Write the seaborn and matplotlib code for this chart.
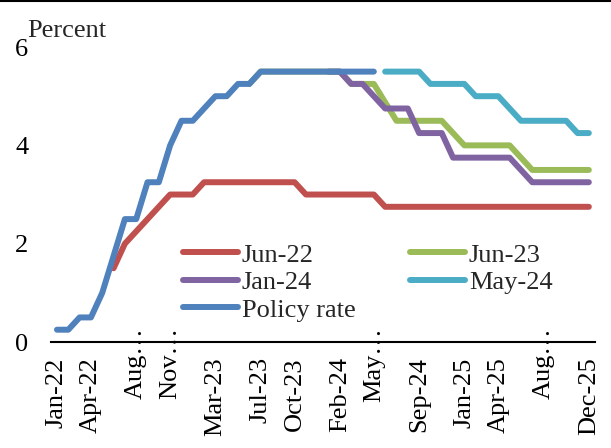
import numpy as np
import pandas as pd
import matplotlib
matplotlib.use('Agg')
import matplotlib.pyplot as plt
import seaborn as sns
from matplotlib.lines import Line2D

sns.set_theme(style="white")
plt.rcParams['font.family'] = ['Liberation Serif', 'DejaVu Serif']

nan = np.nan

# months Jan-22 .. Dec-25 (48 points, index 0..47)
months = pd.date_range('2022-01-01', '2025-12-01', freq='MS')

policy_rate = [0.25, 0.25, 0.5, 0.5, 1.0, 1.75, 2.5, 2.5, 3.25, 3.25, 4.0, 4.5,
               4.5, 4.75, 5.0, 5.0, 5.25, 5.25, 5.5, 5.5, 5.5, 5.5, 5.5, 5.5,
               5.5, 5.5, 5.5, 5.5, 5.5] + [nan] * 19
jun22 = [nan] * 5 + [1.5, 2.0, 2.25, 2.5, 2.75, 3.0, 3.0, 3.0,
                     3.25, 3.25, 3.25, 3.25, 3.25, 3.25, 3.25, 3.25, 3.25,
                     3.0, 3.0, 3.0, 3.0, 3.0, 3.0, 3.0] + [2.75] * 19
jun23 = [nan] * 17 + [5.25, 5.5, 5.5, 5.5, 5.5, 5.5, 5.5, 5.5, 5.5,
                      5.25, 5.25, 5.25, 4.875, 4.5, 4.5, 4.5, 4.5, 4.5, 4.25,
                      4.0, 4.0, 4.0, 4.0, 4.0, 3.75, 3.5, 3.5, 3.5, 3.5, 3.5, 3.5]
jan24 = [nan] * 24 + [5.5, 5.5, 5.25, 5.25, 5.0, 4.75, 4.75, 4.75, 4.25, 4.25,
                      4.25, 3.75, 3.75, 3.75, 3.75, 3.75, 3.75, 3.5,
                      3.25, 3.25, 3.25, 3.25, 3.25, 3.25]
may24 = [nan] * 29 + [5.5, 5.5, 5.5, 5.5, 5.25, 5.25, 5.25, 5.25, 5.0, 5.0, 5.0,
                      4.75, 4.5, 4.5, 4.5, 4.5, 4.5, 4.25, 4.25]

series = [('Jun-22', jun22, '#C0504D'),
          ('Jun-23', jun23, '#9BBB59'),
          ('Jan-24', jan24, '#8064A2'),
          ('May-24', may24, '#4BACC6'),
          ('Policy rate', policy_rate, '#4F81BD')]

tick_pos = [0, 3, 7, 10, 14, 18, 21, 25, 28, 32, 36, 39, 43, 47]
tick_labels = ['Jan-22', 'Apr-22', 'Aug…', 'Nov…', 'Mar-23', 'Jul-23', 'Oct-23',
               'Feb-24', 'May…', 'Sep-24', 'Jan-25', 'Apr-25', 'Aug…', 'Dec-25']

FS = 19

fig = plt.figure(figsize=(6.11, 4.48), dpi=100)
ax = fig.add_axes([0.084, 0.2366, 0.889, 0.6584])

x = np.arange(len(months))
for name, vals, color in series:
    sns.lineplot(x=x, y=np.array(vals, dtype=float), ax=ax, color=color,
                 linewidth=4.3, solid_capstyle='round', solid_joinstyle='round',
                 label=name)

ax.set_xlim(-0.5, 47.5)
ax.set_ylim(0, 6)
ax.set_yticks([0, 2, 4, 6])
ax.tick_params(axis='y', length=0, pad=16.5, labelsize=FS, colors='black')
ax.set_xticks(tick_pos)
ax.set_xticklabels(tick_labels, rotation=90, fontsize=FS, va='top')
ax.tick_params(axis='x', length=0, colors='black')
for t, lab in zip(ax.xaxis.get_major_ticks(), tick_labels):
    t.set_pad(-10.8 if lab.endswith('…') else 11.0)

for s in ['left', 'top', 'right']:
    ax.spines[s].set_visible(False)
ax.spines['bottom'].set_color('black')
ax.spines['bottom'].set_linewidth(1.5)
ax.grid(False)

fig.text(0.045, 0.918, 'Percent', fontsize=FS, va='baseline', ha='left')

# legend: column 1 Jun-22, Jan-24, Policy rate; column 2 Jun-23, May-24
handles, labels = ax.get_legend_handles_labels()
order = [0, 2, 4, 1, 3]
ax.legend([handles[i] for i in order], [labels[i] for i in order],
          ncol=2, loc='upper left', bbox_to_anchor=(0.2424, 0.335),
          frameon=False, fontsize=FS, handlelength=2.08, handletextpad=0.15,
          columnspacing=2.06, labelspacing=0.15, borderpad=0, borderaxespad=0)

fig.add_artist(Line2D([0, 1], [0.998, 0.998], color='black', linewidth=1.5,
                      transform=fig.transFigure))

fig.savefig('out.png', dpi=100)
